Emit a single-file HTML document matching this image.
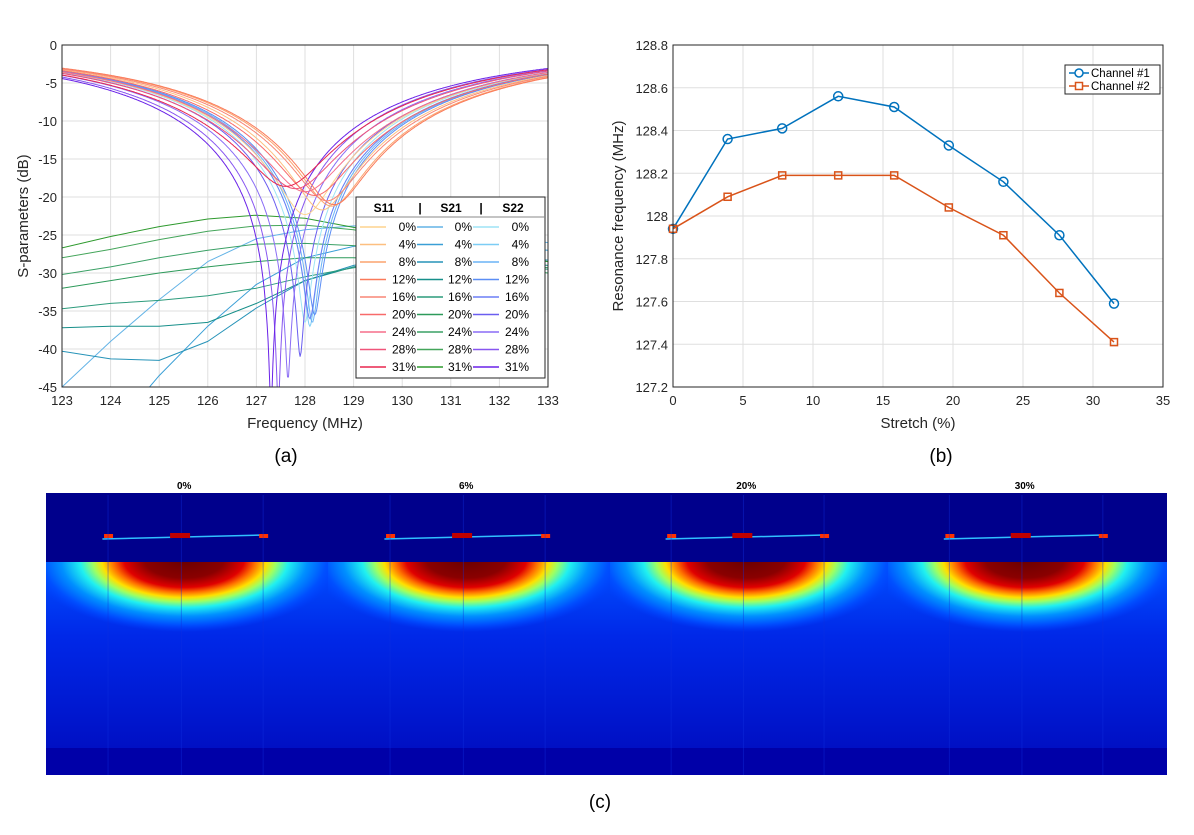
<!DOCTYPE html>
<html><head><meta charset="utf-8">
<style>
body{margin:0;background:#fff;font-family:"Liberation Sans",sans-serif;}
svg text{font-family:"Liberation Sans",sans-serif;}
</style></head>
<body>
<svg id="fig" width="1194" height="830" viewBox="0 0 1194 830" xmlns="http://www.w3.org/2000/svg">
<defs>
<radialGradient id="blob" cx="0.5" cy="0.5" r="0.5">
<stop offset="0" stop-color="#6a0000"/>
<stop offset="0.25" stop-color="#8a0000"/>
<stop offset="0.38" stop-color="#e00000"/>
<stop offset="0.45" stop-color="#ff7000"/>
<stop offset="0.52" stop-color="#ffe000"/>
<stop offset="0.58" stop-color="#a0ff60"/>
<stop offset="0.66" stop-color="#20f0f0"/>
<stop offset="0.78" stop-color="#0090ff"/>
<stop offset="0.9" stop-color="#0050ff"/>
<stop offset="1" stop-color="#0040ff" stop-opacity="0"/>
</radialGradient>
<linearGradient id="body" x1="0" y1="0" x2="0" y2="1">
<stop offset="0" stop-color="#0050ff"/>
<stop offset="0.4" stop-color="#0028e8"/>
<stop offset="1" stop-color="#0010c4"/>
</linearGradient>
</defs>
<g id="pa"></g>
<g id="pb"></g>
<g id="pc"></g>
</svg>
<script>
// ---------- Panel (a) data ----------
const pctLabels=["0%","4%","8%","12%","16%","20%","24%","28%","31%"];
const s11F0=[128.0,128.35,128.55,128.6,128.45,128.2,128.0,127.8,127.6];
const s11Min=[-22.3,-21.7,-21.2,-21.0,-20.5,-19.8,-19.3,-18.9,-18.6];
const s22F0=[128.0,128.1,128.15,128.2,128.1,127.9,127.65,127.45,127.3];
const s22Min=[-36.5,-37,-36.5,-35.5,-36,-41,-44,-48,-48];
const s21Freq=[123,124,125,126,127,128,129,130,131,132,133];
const s21Vals=[
[-45,-39,-33.5,-28.5,-25.5,-24.3,-23.8,-24,-24.5,-25.2,-26],
[-56,-51,-43.5,-37,-31.5,-28,-26.5,-26,-26,-26.5,-27],
[-40.3,-41.3,-41.5,-39,-34.6,-31,-29,-28,-27.6,-27.8,-28.3],
[-37.2,-37,-37,-36.5,-34,-31,-29.2,-28.3,-28,-28.5,-29],
[-34.7,-34,-33.6,-33,-32,-30.5,-29.3,-28.6,-28.6,-29,-29.5],
[-32,-31,-30,-29.2,-28.5,-28,-28,-28.3,-28.8,-29.3,-30],
[-30.2,-29.2,-28,-27,-26.2,-26.1,-26.4,-27,-27.8,-28.5,-29.3],
[-28,-26.9,-25.6,-24.5,-23.8,-23.7,-24.3,-25.5,-26.6,-27.5,-28.5],
[-26.7,-25.2,-23.9,-22.9,-22.4,-22.8,-24,-25.3,-26.5,-27.5,-28.5]];
const s11Col=["#fdd38e","#fdbf80","#fca36e","#fa7a5a","#f88676","#f86a6a","#f56f8a","#f0557a","#e8264f"];
const s21Col=["#63b3e6","#3a9fd6","#2693b8","#178f8a","#2c9b7c","#2d9a5a","#3aa065","#44a55a","#2e9a2e"];
const s22Col=["#9de4f5","#7ccdf5","#6ab3f5","#5b8ef5","#6c7ef5","#6a5ef0","#8a6cf5","#8856f0","#6a22e8"];
const aXTicks=[123,124,125,126,127,128,129,130,131,132,133];
const aYTicks=[0,-5,-10,-15,-20,-25,-30,-35,-40,-45];
// ---------- Panel (b) data ----------
const stretch=[0,3.9,7.8,11.8,15.8,19.7,23.6,27.6,31.5];
const ch1=[127.94,128.36,128.41,128.56,128.51,128.33,128.16,127.91,127.59];
const ch2=[127.94,128.09,128.19,128.19,128.19,128.04,127.91,127.64,127.41];
const bXTicks=[0,5,10,15,20,25,30,35];
const bYTicks=[127.2,127.4,127.6,127.8,128,128.2,128.4,128.6,128.8];
// ---------- Panel (c) data ----------
const cTitles=["0%","6%","20%","30%"];

const NS="http://www.w3.org/2000/svg";
function mk(tag,attrs,parent,txt){const e=document.createElementNS(NS,tag);for(const k in attrs)e.setAttribute(k,attrs[k]);if(txt!==undefined)e.textContent=txt;parent.appendChild(e);return e;}

// ===== Panel A =====
const pa=document.getElementById('pa');
const aL=62,aR=548,aT=45,aB=387;
const ax=f=>aL+(f-123)/10*(aR-aL);
const ay=d=>aT+(0-d)/45*(aB-aT);
mk('rect',{x:aL,y:aT,width:aR-aL,height:aB-aT,fill:'#fff'},pa);
aXTicks.forEach(t=>{
 const g=mk('line',{x1:ax(t),x2:ax(t),y1:aT,y2:aB,stroke:'#dfdfdf','stroke-width':1},pa);
 
 const l=mk('text',{x:ax(t),y:aB+18,'text-anchor':'middle','font-size':13,fill:'#262626'},pa,String(t));
 
});
aYTicks.forEach(t=>{
 const g=mk('line',{x1:aL,x2:aR,y1:ay(t),y2:ay(t),stroke:'#dfdfdf','stroke-width':1},pa);
 
 const l=mk('text',{x:aL-5,y:ay(t)+5,'text-anchor':'end','font-size':13,fill:'#262626'},pa,String(t));
 
});
const clipA=mk('clipPath',{id:'clipA'},pa);mk('rect',{x:aL,y:aT,width:aR-aL,height:aB-aT},clipA);
const curves=mk('g',{'clip-path':'url(#clipA)'},pa);
function resCurve(f0,mn,f){const m=Math.pow(10,mn/10);const w=f<f0?5.7:5.8;const x=(f-f0)/w;const p=1-(1-m)/(1+x*x);return 10*Math.log10(p);}
function drawRes(f0,mn,col,name){let d='';for(let f=123;f<=133.001;f+=0.02){d+=(d?'L':'M')+ax(f).toFixed(1)+','+ay(resCurve(f0,mn,f)).toFixed(1);}
 const p=mk('path',{d:d,fill:'none',stroke:col,'stroke-width':1},curves);}
s21Vals.forEach((vals,i)=>{let d='';vals.forEach((v,j)=>{d+=(j?'L':'M')+ax(s21Freq[j]).toFixed(1)+','+ay(v).toFixed(1);});
 const p=mk('path',{d:d,fill:'none',stroke:s21Col[i],'stroke-width':1,'stroke-linejoin':'round'},curves);
 });
s22F0.forEach((f0,i)=>drawRes(f0,s22Min[i],s22Col[i],'s22-curve'));
s11F0.forEach((f0,i)=>drawRes(f0,s11Min[i],s11Col[i],'s11-curve'));
const aBox=mk('rect',{x:aL,y:aT,width:aR-aL,height:aB-aT,fill:'none',stroke:'#262626','stroke-width':1},pa);

let t=mk('text',{x:(aL+aR)/2,y:428,'text-anchor':'middle','font-size':15,fill:'#262626'},pa,'Frequency (MHz)');

t=mk('text',{x:0,y:0,transform:`translate(28,${(aT+aB)/2}) rotate(-90)`,'text-anchor':'middle','font-size':15,fill:'#262626'},pa,'S-parameters (dB)');

// legend
const lg=mk('g',{},pa);
mk('rect',{x:356,y:197,width:189,height:181,fill:'#fff',stroke:'#262626','stroke-width':1},lg);
mk('line',{x1:356,x2:545,y1:217,y2:217,stroke:'#888','stroke-width':1},lg);
[["S11",384],["|",420],["S21",451],["|",481],["S22",513]].forEach(h=>{mk('text',{x:h[1],y:212,'text-anchor':'middle','font-size':12,'font-weight':'bold',fill:'#000'},lg,h[0]);});
[[s11Col,360,402],[s21Col,417,458],[s22Col,473,515]].forEach(grp=>{
 pctLabels.forEach((p,i)=>{const y=227+i*17.5;
  const e=mk('line',{x1:grp[1],x2:grp[1]+26,y1:y,y2:y,stroke:grp[0][i],'stroke-width':1.5},lg);
  
  mk('text',{x:grp[2]+14,y:y+4,'text-anchor':'end','font-size':12,fill:'#000'},lg,p);});
});
t=mk('text',{x:286,y:462,'text-anchor':'middle','font-size':19,fill:'#000'},pa,'(a)');


// ===== Panel B =====
const pb=document.getElementById('pb');
const bL=673,bR=1163,bT=45,bB=387;
const bx=v=>bL+v/35*(bR-bL);
const by=v=>bT+(128.8-v)/1.6*(bB-bT);
bXTicks.forEach(v=>{
 const g=mk('line',{x1:bx(v),x2:bx(v),y1:bT,y2:bB,stroke:'#dfdfdf'},pb);
 const l=mk('text',{x:bx(v),y:bB+18,'text-anchor':'middle','font-size':13,fill:'#262626'},pb,String(v));
});
bYTicks.forEach(v=>{
 const g=mk('line',{x1:bL,x2:bR,y1:by(v),y2:by(v),stroke:'#dfdfdf'},pb);
 const s=(Math.abs(v-128)<1e-9)?'128':v.toFixed(1);
 const l=mk('text',{x:bL-5,y:by(v)+5,'text-anchor':'end','font-size':13,fill:'#262626'},pb,s);
});
function series(vals,col,marker,name){
 let d='';vals.forEach((v,i)=>{d+=(i?'L':'M')+bx(stretch[i]).toFixed(1)+','+by(v).toFixed(1);});
 const p=mk('path',{d:d,fill:'none',stroke:col,'stroke-width':1.5},pb);
 vals.forEach((v,i)=>{let m;
  if(marker==='o')m=mk('circle',{cx:bx(stretch[i]),cy:by(v),r:4.5,fill:'none',stroke:col,'stroke-width':1.5},pb);
  else m=mk('rect',{x:bx(stretch[i])-3.5,y:by(v)-3.5,width:7,height:7,fill:'none',stroke:col,'stroke-width':1.5},pb);
  });
}
series(ch1,'#0072bd','o','channel-1');
series(ch2,'#d95319','s','channel-2');
const bBox=mk('rect',{x:bL,y:bT,width:bR-bL,height:bB-bT,fill:'none',stroke:'#262626'},pb);

const lb=mk('g',{},pb);
mk('rect',{x:1065,y:65,width:95,height:29,fill:'#fff',stroke:'#262626'},lb);
mk('line',{x1:1069,x2:1089,y1:73,y2:73,stroke:'#0072bd','stroke-width':1.5},lb);
mk('circle',{cx:1079,cy:73,r:4,fill:'#fff',stroke:'#0072bd','stroke-width':1.5},lb);
mk('text',{x:1091,y:77,'font-size':11.5,fill:'#000'},lb,'Channel #1');
mk('line',{x1:1069,x2:1089,y1:86,y2:86,stroke:'#d95319','stroke-width':1.5},lb);
mk('rect',{x:1075.5,y:82.5,width:7,height:7,fill:'#fff',stroke:'#d95319','stroke-width':1.5},lb);
mk('text',{x:1091,y:90,'font-size':11.5,fill:'#000'},lb,'Channel #2');
t=mk('text',{x:918,y:428,'text-anchor':'middle','font-size':15,fill:'#262626'},pb,'Stretch (%)');

t=mk('text',{x:0,y:0,transform:`translate(623,${(bT+bB)/2}) rotate(-90)`,'text-anchor':'middle','font-size':15,fill:'#262626'},pb,'Resonance frequency (MHz)');

t=mk('text',{x:941,y:462,'text-anchor':'middle','font-size':19,fill:'#000'},pb,'(b)');


// ===== Panel C =====
const pc=document.getElementById('pc');
const cX=[46,328,610,888],cW=[282,282,278,279];
mk('rect',{x:46,y:493,width:1121,height:282,fill:'#00008c'},pc);
cTitles.forEach((ttl,i)=>{
 const x0=cX[i],w=cW[i],cx=x0+w*0.49;
 const g=mk('g',{},pc);
 mk('rect',{x:x0,y:562,width:w,height:186,fill:'url(#body)'},g);
 mk('rect',{x:x0,y:748,width:w,height:27,fill:'#0000a8'},g);
 const cid='cc'+i;const cp=mk('clipPath',{id:cid},g);mk('rect',{x:x0,y:562,width:w,height:186},cp);
 mk('ellipse',{cx:cx,cy:560,rx:w*0.56,ry:72,fill:'url(#blob)','clip-path':`url(#${cid})`},g);
 mk('line',{x1:x0+w*0.2,y1:539,x2:x0+w*0.77,y2:535,stroke:'#30c0ff','stroke-width':1.5},g);
 [0.22,0.48,0.77].forEach(f=>{mk('rect',{x:x0+w*f-4,y:534,width:9,height:4,fill:'#ff3000'},g);
   mk('line',{x1:x0+w*f,x2:x0+w*f,y1:495,y2:775,stroke:'#1030e0','stroke-width':1,opacity:0.4},g);});
 mk('rect',{x:x0+w*0.44,y:533,width:20,height:5,fill:'#c00000'},g);
 const tt=mk('text',{x:cx,y:489,'text-anchor':'middle','font-size':10,'font-weight':'bold',fill:'#000'},pc,ttl);
 
});
t=mk('text',{x:600,y:808,'text-anchor':'middle','font-size':19,fill:'#000'},pc,'(c)');

</script>
</body></html>
